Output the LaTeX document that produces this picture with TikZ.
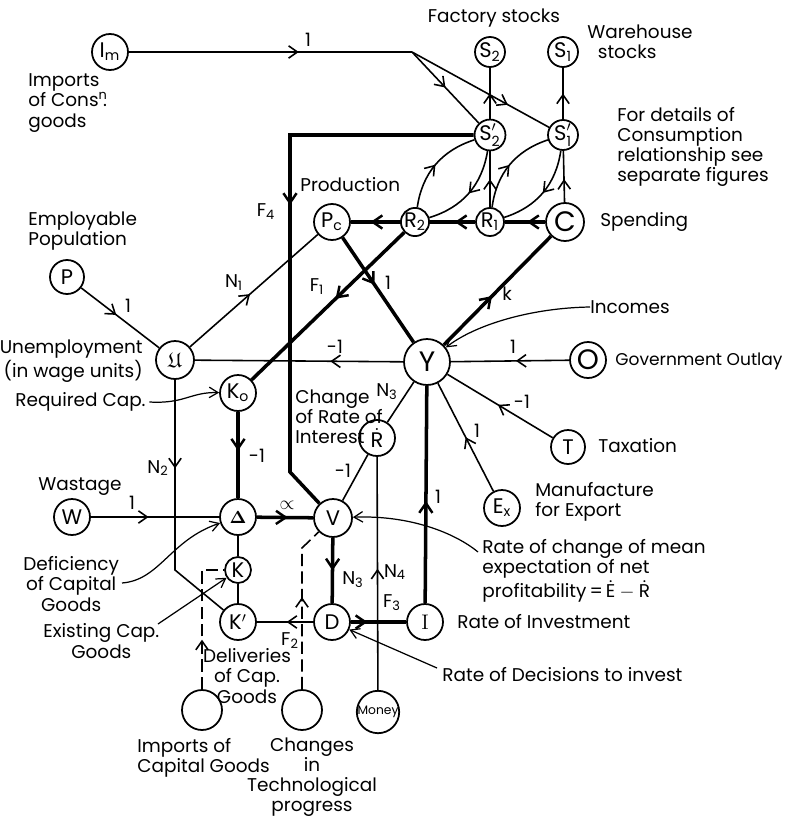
\documentclass[tikz,border=0pt]{standalone}
\usepackage{amsmath,amssymb}
\usepackage{fontspec}
\setsansfont{Poppins}
\usetikzlibrary{arrows.meta, decorations.markings, positioning}
\tikzstyle{var} = [circle, draw, line width=1pt, inner sep=0pt, minimum size=0.72cm,
                   font=\sffamily\fontsize{12}{12}\selectfont]
\tikzstyle{bigvar} = [var, font=\sffamily\fontsize{16}{16}\selectfont]
\tikzstyle{link} = [line width=0.9pt]
\tikzstyle{heavy} = [line width=2pt]

\begin{document}
\begin{tikzpicture}[x=0.02cm, y=-0.02cm,
    font=\sffamily\fontsize{10.5}{11.5}\selectfont,
    midarrow/.style={postaction={decorate}, decoration={markings,
        mark=at position #1 with {\arrow{Straight Barb[length=5pt, width=7pt, line width=0.9pt]}}}},
    midarrow/.default=0.5,
    heavymid/.style={postaction={decorate}, decoration={markings,
        mark=at position #1 with {\arrow{Straight Barb[length=5.5pt, width=7.5pt, line width=1.4pt]}}}},
    heavymid/.default=0.5,
    note/.style={align=left, anchor=west, inner sep=0pt},
    coef/.style={inner sep=0pt},
    pointer/.style={line width=0.7pt, -{Straight Barb[length=5pt, width=6pt]}},
    dashedfeed/.style={line width=0.9pt, dash pattern=on 7pt off 3pt},
]
\useasboundingbox (0,0) rectangle (789,821);

% Stocks and consumption
\node[var] (Im) at (110,52) {I\textsubscript{m}};
\coordinate (imjoin) at (412,52);
\node[var, minimum size=0.6cm] (S2) at (490,52) {S\textsubscript{2}};
\node[var, minimum size=0.6cm] (S1) at (563,52) {S\textsubscript{1}};
\node[var, minimum size=0.6cm] (S2p) at (490,135) {$\text{S}'_{\text{2}}$};
\node[var, minimum size=0.6cm] (S1p) at (563,135) {$\text{S}'_{\text{1}}$};
\node[var, minimum size=0.56cm] (R2) at (415,222) {R\textsubscript{2}};
\node[var, minimum size=0.56cm] (R1) at (490,222) {R\textsubscript{1}};
\node[bigvar, minimum size=0.76cm] (C) at (565,222) {C};
\node[var] (Pc) at (332,222) {P\textsubscript{c}};

% Labour and incomes
\node[var, minimum size=0.68cm] (P) at (67,277) {P};
\node[var, minimum size=0.76cm] (U) at (175,360) {$\mathfrak{U}$};
\node[bigvar, minimum size=0.92cm] (Y) at (427,362) {Y};
\node[bigvar] (O) at (588,360) {O};
\node[var, minimum size=0.68cm] (T) at (568,447) {T};
\node[var] (Ex) at (502,508) {E\textsubscript{x}};
\node[var] (K0) at (238,393) {K\textsubscript{o}};
\node[var] (Rd) at (377,438) {$\dot{\text{R}}$};

% Capital goods and investment
\node[var] (Dl) at (238,517) {\fontsize{10}{10}\selectfont$\boldsymbol{\Delta}$};
\node[var, minimum size=0.76cm] (V) at (333,518) {V};
\node[var] (W) at (72,517) {W};
\node[var, minimum size=0.52cm] (K) at (238,570) {K};
\node[var] (Kp) at (238,622) {K$'$};
\node[var] (D) at (332,622) {D};
\node[var] (I) at (425,622) {\rmfamily I};
\node[var, minimum size=0.8cm] (ImpK) at (202,710) {};
\node[var, minimum size=0.8cm] (Tech) at (302,710) {};
\node[var, minimum size=0.76cm, font=\sffamily\fontsize{7}{7}\selectfont] (Money) at (378,712) {Money};

% Consumption links
\draw[link, midarrow=0.6] (Im) -- (imjoin);
\draw[link, midarrow=0.5] (imjoin) -- (S2p);
\draw[link, midarrow=0.7] (imjoin) -- (S1p);
\draw[link, midarrow] (S2p) -- (S2);
\draw[link, midarrow] (S1p) -- (S1);
\draw[link, midarrow] (R1) -- (S2p);
\draw[link, midarrow=0.45] (C) -- (S1p);
\draw[link, midarrow] (R2) to[bend left=32] (S2p);
\draw[link, midarrow] (S2p) to[bend left=32] (R2);
\draw[link, midarrow] (R1) to[bend left=32] (S1p);
\draw[link, midarrow] (S1p) to[bend left=32] (R1);
\draw[heavy, heavymid=0.45] (C) -- (R1);
\draw[heavy, heavymid=0.45] (R1) -- (R2);
\draw[heavy, heavymid=0.6] (R2) -- (Pc);

% Production links
\coordinate (f4top) at (290,135);
\coordinate (f4bend) at (290,472);
\draw[heavy, heavymid=0.45] (S2p) -- (f4top) -- (f4bend) -- (V);
\draw[heavy, heavymid=0.45] (R2) -- (K0);
\draw[heavy, heavymid=0.45] (Pc) -- (Y);
\draw[heavy, heavymid=0.45] (Y) -- (C);

% Labour links
\draw[link, midarrow=0.45] (P) -- (U);
\draw[link, midarrow=0.47] (U) -- (Pc);
\draw[link, midarrow=0.35] (Y) -- (U);
\coordinate (n2bend) at (175,570);
\draw[link, midarrow=0.35] (U) -- (n2bend) -- (Kp);

% Income links
\draw[link, midarrow=0.45] (O) -- (Y);
\draw[link, midarrow=0.52] (T) -- (Y);
\draw[link, midarrow=0.5] (Ex) -- (Y);
\draw[link] (Rd) -- (Y);
\draw[link] (Rd) -- (V);
\draw[link, midarrow=0.52] (Money) -- (Rd);
\draw[heavy, heavymid=0.47] (I) -- (Y);

% Investment links
\draw[heavy, heavymid=0.5] (V) -- (D);
\draw[heavy, heavymid=0.3] (D) -- (I);
\draw[link, midarrow=0.47] (D) -- (Kp);
\draw[heavy, heavymid=0.45] (K0) -- (Dl);
\draw[link, midarrow=0.45] (W) -- (Dl);
\draw[heavy, heavymid=0.55] (Dl) -- (V);
\draw[link] (Dl) -- (K);
\draw[link] (K) -- (Kp);
\coordinate (impbend) at (202,570);
\draw[dashedfeed, midarrow=0.35] (ImpK) -- (impbend) -- (K);
\coordinate (techbend) at (302,548);
\draw[dashedfeed, midarrow=0.56] (Tech) -- (techbend) -- (V);

% Coefficients
\node[coef] (cIm) at (308,40) {1};
\node[coef] (cF4) at (266,212) {F\textsubscript{4}};
\node[coef] (cN1) at (234,283) {N\textsubscript{1}};
\node[coef] (cF1) at (317,287) {F\textsubscript{1}};
\node[coef] (cPc) at (388,283) {1};
\node[coef] (ck) at (507,294) {k};
\node[coef] (cP) at (128,306) {1};
\node[coef] (cYU) at (335,347) {-1};
\node[coef] (cO) at (513,347) {1};
\node[coef] (cT) at (522,402) {-1};
\node[coef] (cEx) at (477,431) {1};
\node[coef] (cN3a) at (387,392) {N\textsubscript{3}};
\node[coef] (cRV) at (343,471) {-1};
\node[coef] (cK0) at (257,456) {-1};
\node[coef] (cN2) at (158,468) {N\textsubscript{2}};
\node[coef] (cW) at (132,503) {1};
\node[coef] (calpha) at (287,505) {$\propto$};
\node[coef] (cN3b) at (353,580) {N\textsubscript{3}};
\node[coef] (cN4) at (395,572) {N\textsubscript{4}};
\node[coef] (cF3) at (392,603) {F\textsubscript{3}};
\node[coef] (cF2) at (290,641) {F\textsubscript{2}};
\node[coef] (cI) at (438,497) {1};

% Descriptions
\node[note] (impcons) at (28,103) {Imports\\of Cons\textsuperscript{n}\kern-0.25em.\\goods};
\node[inner sep=0pt] (factory) at (494,18) {Factory stocks};
\node[note] (warehouse) at (587,42) {Warehouse\\\hspace*{6pt}stocks};
\node[note] (details) at (617,147) {For details of\\Consumption\\relationship see\\separate figures};
\node[note] (spending) at (600,222) {Spending};
\node[note] (production) at (300,185) {Production};
\node[note] (employable) at (28,231) {Employable\\Population};
\node[note, align=right, anchor=east] (unemp) at (143,361) {Unemployment\\(in wage units)};
\node[note] (reqcap) at (15,402) {Required Cap.};
\node[note] (interest) at (295,417) {Change\\of Rate of\\Interest};
\node[note] (wastage) at (38,487) {Wastage};
\node[note, align=center] (deficit) at (23,584) {Deficiency\\of Capital\\Goods};
\node[note, align=center] (existing) at (43,641) {Existing Cap.\\Goods};
\node[inner sep=0pt, align=center] (delivery) at (247,676) {Deliveries\\of Cap.\\Goods};
\node[note] (impcap) at (137,758) {Imports of\\Capital Goods};
\node[inner sep=0pt, align=center] (techtext) at (312,777) {Changes\\in\\Technological\\progress};
\node[note] (incomes) at (590,307) {Incomes};
\node[note, font=\sffamily\fontsize{9.7}{11.5}\selectfont] (govt) at (615,361) {Government Outlay};
\node[note] (taxation) at (598,446) {Taxation};
\node[note] (export) at (535,502) {Manufacture\\for Export};
\node[note] (expect) at (482,571) {Rate of change of mean\\expectation of net\\profitability\,=\,$\dot{\text{E}}-\dot{\text{R}}$};
\node[note] (invest) at (457,622) {Rate of Investment};
\node[note] (decide) at (442,675) {Rate of Decisions to invest};

% Pointers from descriptions
\coordinate (deficitend) at (122,583);
\coordinate (existend) at (158,624);
\coordinate (expectend) at (478,552);
\coordinate (decideend) at (437,668);
\draw[pointer] (incomes.west) .. controls (530,308) and (475,325) .. (Y);
\draw[pointer] ([xshift=2pt]reqcap.east) .. controls (185,404) and (190,392) .. (K0);
\draw[pointer] (deficitend) .. controls (160,580) and (170,540) .. (Dl);
\draw[pointer] (existend) -- (K);
\draw[pointer] (expectend) .. controls (455,533) and (410,515) .. (V);
\draw[pointer] (decideend) -- (D);

\end{tikzpicture}
\end{document}
